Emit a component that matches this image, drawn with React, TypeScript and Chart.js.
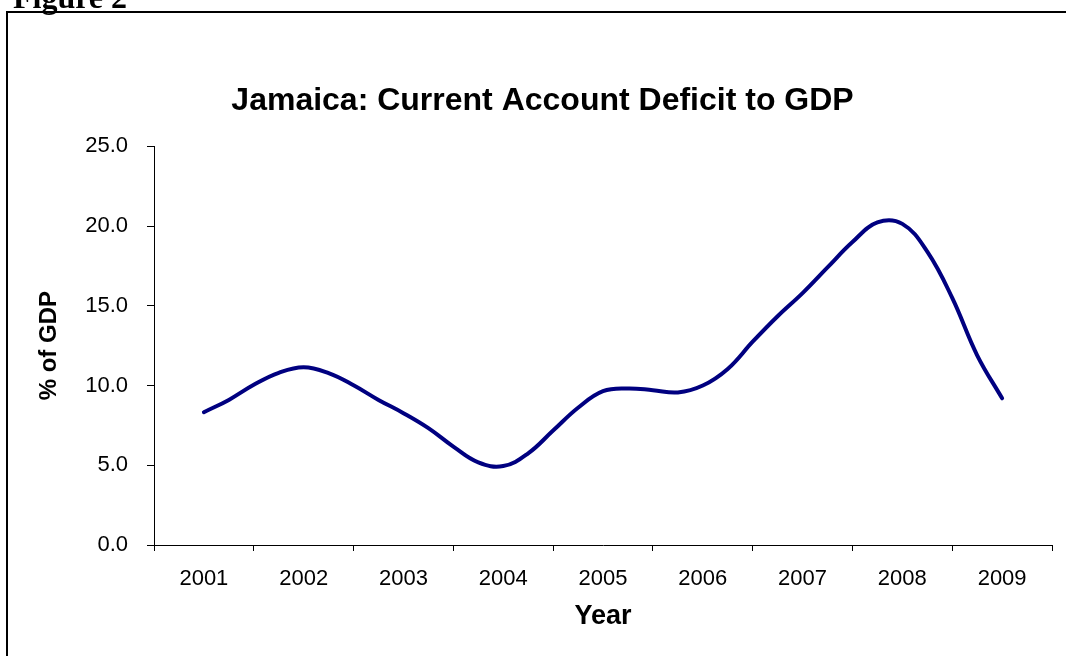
import React, { useEffect, useRef } from "react";
import { Chart, registerables } from "chart.js";

Chart.register(...registerables);

// ---- data ----
const yearLabels = ["2001", "2002", "2003", "2004", "2005", "2006", "2007", "2008", "2009"];

// time position of each observation (in years; quarterly, 2001 = centre of the 2001 category)
const periods = [
  2001.0, 2001.25, 2001.5, 2001.75,
  2002.0, 2002.25, 2002.5, 2002.75,
  2003.0, 2003.25, 2003.5, 2003.75,
  2004.0, 2004.25, 2004.5, 2004.75,
  2005.0, 2005.25, 2005.5, 2005.75,
  2006.0, 2006.25, 2006.5, 2006.75,
  2007.0, 2007.25, 2007.5, 2007.75,
  2008.0, 2008.25, 2008.5, 2008.75,
  2009.0,
];

// Current account deficit, % of GDP
const deficitPct = [
  8.33, 9.1, 10.05, 10.8,
  11.15, 10.78, 10.02, 9.1,
  8.27, 7.33, 6.17, 5.18,
  4.95, 5.75, 7.18, 8.61,
  9.65, 9.82, 9.71, 9.57,
  10.0, 11.04, 12.75, 14.35,
  15.8, 17.41, 19.0, 20.23,
  20.14, 18.4, 15.5, 11.9,
  9.2,
];

const yMin = 0;
const yMax = 25;
const yStep = 5;

const FONT = "'Liberation Sans', Arial, Helvetica, sans-serif";

export default function App() {
  const canvasRef = useRef<HTMLCanvasElement | null>(null);

  useEffect(() => {
    const canvas = canvasRef.current;
    if (!canvas) return;
    const points = periods.map((p, i) => ({ x: p, y: deficitPct[i] }));
    const chart = new Chart(canvas, {
      type: "line",
      data: {
        datasets: [
          {
            label: "Current Account Deficit to GDP",
            data: points,
            xAxisID: "xd",
            yAxisID: "y",
            borderColor: "#000080",
            backgroundColor: "#000080",
            borderWidth: 4,
            pointRadius: 0,
            pointHoverRadius: 0,
            tension: 0.4,
            borderCapStyle: "round",
            borderJoinStyle: "round",
            fill: false,
          },
        ],
      },
      options: {
        responsive: false,
        animation: false,
        devicePixelRatio: 1,
        layout: { padding: { left: 33, right: 14, top: 0, bottom: 0 } },
        plugins: {
          legend: { display: false },
          tooltip: { enabled: false },
          title: {
            display: true,
            text: "Jamaica: Current Account Deficit to GDP",
            color: "#000",
            font: { family: FONT, size: 32, weight: "bold", lineHeight: 1.2 },
            padding: { top: 82, bottom: 26 },
          },
        },
        scales: {
          x: {
            type: "category",
            labels: yearLabels,
            offset: true,
            position: "bottom",
            grid: {
              offset: true,
              drawOnChartArea: false,
              drawTicks: true,
              tickLength: 6,
              color: "#000",
              lineWidth: 1,
            },
            border: { display: true, color: "#000", width: 1 },
            ticks: {
              color: "#000",
              padding: 15,
              maxRotation: 0,
              autoSkip: false,
              font: { family: FONT, size: 22, lineHeight: 1.2 },
            },
            title: {
              display: true,
              text: "Year",
              color: "#000",
              font: { family: FONT, size: 27, weight: "bold", lineHeight: 1.2 },
              padding: { top: 0, bottom: 23 },
            },
            afterFit: (s: any) => {
              s.height = 111;
            },
          },
          xd: {
            type: "linear",
            display: false,
            min: 2000.5,
            max: 2009.5,
          },
          y: {
            type: "linear",
            position: "left",
            min: yMin,
            max: yMax,
            grid: {
              drawOnChartArea: false,
              drawTicks: true,
              tickLength: 7,
              color: "#000",
              lineWidth: 1,
            },
            border: { display: true, color: "#000", width: 1 },
            ticks: {
              stepSize: yStep,
              color: "#000",
              padding: 19,
              font: { family: FONT, size: 22, lineHeight: 1.2 },
              callback: (v: any) => Number(v).toFixed(1),
            },
            title: {
              display: true,
              text: "% of GDP",
              color: "#000",
              font: { family: FONT, size: 24, weight: "bold", lineHeight: 1.2 },
              padding: { top: 2, bottom: 0 },
            },
            afterFit: (s: any) => {
              s.width = 121;
            },
          },
        },
      },
    });
    return () => chart.destroy();
  }, []);

  return (
    <div style={{ position: "absolute", left: 0, top: 0, width: 1066, height: 656, overflow: "hidden", background: "#fff" }}>
      <canvas ref={canvasRef} width={1066} height={656} style={{ display: "block", position: "absolute", left: 0, top: 0 }} />
      <div
        style={{
          position: "absolute",
          left: 6,
          top: 11,
          width: 1200,
          height: 700,
          boxSizing: "border-box",
          borderLeft: "2px solid #000",
          borderTop: "2px solid #000",
          pointerEvents: "none",
        }}
      />
      <div
        style={{
          position: "absolute",
          left: 13,
          top: -19,
          font: "bold 32px 'Liberation Serif', 'Times New Roman', serif",
          lineHeight: "32px",
          color: "#000",
          whiteSpace: "nowrap",
        }}
      >
        Figure 2
      </div>
    </div>
  );
}
